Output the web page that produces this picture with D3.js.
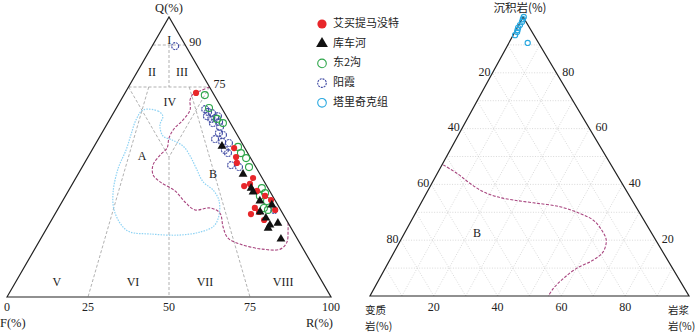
<!DOCTYPE html>
<html>
<head>
<meta charset="utf-8">
<script src="https://cdn.jsdelivr.net/npm/d3@7"></script>
<style>
  body { margin: 0; background: #fff; }
  svg { display: block; }
  text { font-family: "Liberation Serif", "DejaVu Serif", serif; fill: #222; }
  .cjk { font-family: "Noto Sans CJK SC", sans-serif; }
</style>
</head>
<body>
<script>
// left diagram: [Q, R] in %, F = 100 - Q - R
let aimaiti = [[72.9,21.9],[53.2,43.5],[50.0,45.7],[47.9,47.0],[42.5,54.7],[40.4,54.8],[39.6,53.4],
  [36.1,61.6],[31.8,60.6],[29.6,60.5],[30.4,62.6],[27.5,65.6],[34.6,64.2],[31.1,67.2],[37.9,58.2]]
let kucheRiver = [[53.9,39.4],[43.9,50.9],[38.9,55.9],[37.5,57.2],[34.3,60.9],[32.9,65.3],[30.4,62.9],
  [28.2,65.8],[25.7,68.3],[24.6,68.3],[26.4,70.4],[20.7,74.2]]
let dong2gou = [[72.1,25.0],[67.5,28.6],[63.6,33.0],[62.1,35.6],[53.6,44.5],[51.4,46.5],[49.6,49.0],
  [46.4,51.5],[38.9,59.2],[37.1,61.1],[36.1,60.0],[34.3,63.1],[31.8,63.4],[31.1,65.0]]
let yangxia = [[89.6,7.1],[67.1,27.6],[66.1,29.0],[65.7,30.4],[64.6,29.4],[63.6,31.2],[63.9,32.3],
  [64.6,32.8],[62.5,34.2],[62.1,32.5],[60.7,35.4],[58.6,36.1],[57.9,37.7],[56.4,36.0],[55.4,38.7],
  [55.0,41.0],[52.5,41.0],[47.1,45.6],[46.4,48.4],[51.4,42.5],[31.1,66.9]]

// outline of field A (dotted) and B (dashed), [Q, R]
let fieldA = [[66.8,8.6],[66.4,13.4],[64.6,15.8],[61.4,16.5],[57.5,19.4],[56.1,22.9],[53.9,27.4],
  [50.4,31.3],[46.1,35.3],[41.1,40.0],[38.2,44.5],[34.6,48.1],[29.3,50.8],[25.4,51.2],[23.2,48.0],
  [22.1,41.8],[22.5,32.9],[23.2,26.4],[25.4,22.8],[31.1,17.5],[37.5,14.0],[46.1,11.3],[52.5,10.5],
  [57.9,9.3],[63.2,8.2]]
let fieldB = [[75,25],[73.6,22.8],[72.5,21.2],[70.4,21.3],[66.8,23.1],[63.2,22.7],[60.0,21.5],
  [56.8,21.6],[53.2,22.8],[50.7,21.9],[47.1,21.5],[43.6,23.3],[41.1,26.7],[37.9,32.9],[33.6,38.4],
  [31.1,42.5],[31.8,46.8],[30.0,50.7],[25.0,54.2],[21.1,57.6],[18.9,62.5],[17.1,70.2],[17.1,75.8],
  [19.6,76.6],[23.9,74.8],[26.5,73.5]]

let baseTicks = [0, 25, 50, 75, 100]
let edgeTicks = [90, 75]
let classLabels = [['I',91.5,4.3],['II',80,4.75],['III',80,14],['IV',69.3,15.6],['A',50,16.7],['B',43.6,41.8],
  ['V',5,12.9],['VI',5,36.4],['VII',5,58.6],['VIII',5,82.7]]

// right diagram: [sedimentary, igneous] in %, metamorphic = rest
let taliqike = [[100,0.2],[99.2,0.3],[98.2,0.5],[97.1,0.4],[96.1,0.3],[95.3,0.5],[94.6,0.7],[93.5,0.6],[90.7,5.9]]
let provenanceB = [[47.0,0.4],[44.0,6.1],[40.4,11.9],[37.4,17.5],[35.6,22.6],[34.4,28.4],[33.4,35.2],
  [32.0,44.2],[29.6,51.6],[27.2,56.9],[23.7,61.2],[20.1,64.4],[15.9,65.5],[12.9,63.8],[9.9,60.0],
  [6.3,57.6],[2.8,56.2],[0,55.9]]
let ternTicks = [20, 40, 60, 80]

let legendItems = ['艾买提马没特', '库车河', '东2沟', '阳霞', '塔里奇克组']

let svg = d3.select('body')
  .append('svg')
    .attr('width', 700)
    .attr('height', 332)

// ---------- left: Q-F-R ----------
let x = d3.scaleLinear().domain([0, 100]).range([7, 331])
let y = d3.scaleLinear().domain([0, 100]).range([297, 17])
let proj = (q, r) => [x(r + q / 2), y(q)]

let left = svg.append('g')

let guide = (a, b) => left.append('line')
  .attr('x1', a[0]).attr('y1', a[1]).attr('x2', b[0]).attr('y2', b[1])
  .attr('stroke', '#a8a8a8').attr('stroke-width', 0.9).attr('stroke-dasharray', '3,2')

guide(proj(90, 0), proj(90, 10))
guide(proj(75, 0), proj(75, 25))
guide(proj(90, 5), proj(75, 12.5))
// F = 25, R = 25 and F = R
guide(proj(75, 0), proj(50, 25))
guide(proj(75, 25), proj(50, 25))
guide(proj(50, 25), proj(0, 50))
// constant F:R rays from the Q apex
guide(proj(75, 6.25), proj(0, 25))
guide(proj(75, 18.75), proj(0, 75))

let line = d3.line().curve(d3.curveCatmullRom)
left.append('path')
  .attr('d', d3.line().curve(d3.curveCatmullRomClosed)(fieldA.map(d => proj(d[0], d[1]))))
  .attr('fill', 'none').attr('stroke', '#8fd3f4').attr('stroke-width', 1.2).attr('stroke-dasharray', '1.5,1.2')
left.append('path')
  .attr('d', line(fieldB.map(d => proj(d[0], d[1]))))
  .attr('fill', 'none').attr('stroke', '#a8457f').attr('stroke-width', 1.1).attr('stroke-dasharray', '3,1.5')

left.append('path')
  .attr('d', 'M' + [proj(0, 0), proj(100, 0), proj(0, 100)].join('L') + 'Z')
  .attr('fill', 'none').attr('stroke', '#222').attr('stroke-width', 1.2)

left.selectAll('.cls')
  .data(classLabels)
  .enter()
  .append('text')
    .attr('x', d => proj(d[1], d[2])[0])
    .attr('y', d => proj(d[1], d[2])[1])
    .attr('text-anchor', 'middle').attr('dominant-baseline', 'middle')
    .attr('font-size', 12)
    .text(d => d[0])

left.selectAll('.bt')
  .data(baseTicks)
  .enter()
  .append('text')
    .attr('x', d => x(d)).attr('y', 311)
    .attr('text-anchor', 'middle').attr('font-size', 12)
    .text(d => d)
left.selectAll('.et')
  .data(edgeTicks)
  .enter()
  .append('text')
    .attr('x', d => proj(d, 100 - d)[0] + 4).attr('y', d => proj(d, 100 - d)[1] + 1)
    .attr('font-size', 12)
    .text(d => d)

left.append('text').attr('x', 169).attr('y', 12).attr('text-anchor', 'middle').attr('font-size', 12.5).text('Q(%)')
left.append('text').attr('x', 0).attr('y', 327).attr('font-size', 12.5).text('F(%)')
left.append('text').attr('x', 333).attr('y', 327).attr('text-anchor', 'end').attr('font-size', 12.5).text('R(%)')

// points
let tri = d3.symbol(d3.symbolTriangle, 34)
let drawCircles = (data, stroke, fill, dash, r) => left.append('g')
  .selectAll('circle')
  .data(data)
  .enter()
  .append('circle')
    .attr('cx', d => proj(d[0], d[1])[0])
    .attr('cy', d => proj(d[0], d[1])[1])
    .attr('r', r)
    .attr('fill', fill)
    .attr('stroke', stroke)
    .attr('stroke-width', 1.1)
    .attr('stroke-dasharray', dash)

drawCircles(yangxia, '#3f4aa3', 'none', '2,0.8', 3.5)
drawCircles(dong2gou, '#2ea64a', 'none', null, 3.5)
drawCircles(aimaiti, 'none', '#e8262a', null, 3.1)
left.append('g')
  .selectAll('path')
  .data(kucheRiver)
  .enter()
  .append('path')
    .attr('d', tri)
    .attr('transform', d => 'translate(' + proj(d[0], d[1]) + ')')
    .attr('fill', '#111')

// legend
let legend = svg.append('g').attr('transform', 'translate(322,24)')
legend.selectAll('text')
  .data(legendItems)
  .enter()
  .append('text')
    .attr('class', 'cjk')
    .attr('x', 11).attr('y', (d, i) => i * 19.7)
    .attr('dominant-baseline', 'middle')
    .attr('font-size', 11)
    .text(d => d)
legend.append('circle').attr('r', 4.6).attr('fill', '#e8262a')
legend.append('path').attr('d', d3.symbol(d3.symbolTriangle, 60)()).attr('transform', 'translate(0,' + 19.7 + ')').attr('fill', '#111')
legend.append('circle').attr('cy', 39.4).attr('r', 4.3).attr('fill', 'none').attr('stroke', '#2ea64a').attr('stroke-width', 1.1)
legend.append('circle').attr('cy', 59.1).attr('r', 4.3).attr('fill', 'none').attr('stroke', '#3f4aa3').attr('stroke-width', 1.1).attr('stroke-dasharray', '2,0.9')
legend.append('circle').attr('cy', 78.8).attr('r', 4.3).attr('fill', 'none').attr('stroke', '#29a8e0').attr('stroke-width', 1.1)

// ---------- right: sedimentary-metamorphic-igneous ----------
let x2 = d3.scaleLinear().domain([0, 100]).range([370, 689])
let y2 = d3.scaleLinear().domain([0, 100]).range([296, 17])
let apexAt = 48 // apex position along the base scale
let proj2 = (s, i) => [x2(i + s * apexAt / 100), y2(s)]

let right = svg.append('g')
let grid = (a, b) => right.append('line')
  .attr('x1', a[0]).attr('y1', a[1]).attr('x2', b[0]).attr('y2', b[1])
  .attr('stroke', '#cfcfcf').attr('stroke-width', 0.8).attr('stroke-dasharray', '1,1.6')

d3.range(10, 100, 10).forEach(v => {
  grid(proj2(v, 0), proj2(v, 100 - v))
  grid(proj2(0, v), proj2(100 - v, v))
  grid(proj2(0, 100 - v), proj2(100 - v, 0))
})

right.append('path')
  .attr('d', line(provenanceB.map(d => proj2(d[0], d[1]))))
  .attr('fill', 'none').attr('stroke', '#a8457f').attr('stroke-width', 1.1).attr('stroke-dasharray', '3,1.5')

right.append('path')
  .attr('d', 'M' + [proj2(0, 0), proj2(0, 100), proj2(100, 0)].join('L') + 'Z')
  .attr('fill', 'none').attr('stroke', '#222').attr('stroke-width', 1.2)

right.selectAll('.bt2')
  .data(ternTicks)
  .enter()
  .append('text')
    .attr('x', d => proj2(0, d)[0]).attr('y', 311)
    .attr('text-anchor', 'middle').attr('font-size', 12)
    .text(d => d)
// metamorphic % on the left edge
right.selectAll('.lt2')
  .data(ternTicks)
  .enter()
  .append('text')
    .attr('x', d => proj2(100 - d, 0)[0] - 2).attr('y', d => proj2(100 - d, 0)[1])
    .attr('text-anchor', 'end').attr('dominant-baseline', 'middle').attr('font-size', 12)
    .text(d => d)
// sedimentary % on the right edge
right.selectAll('.rt2')
  .data(ternTicks)
  .enter()
  .append('text')
    .attr('x', d => proj2(d, 100 - d)[0] + 6).attr('y', d => proj2(d, 100 - d)[1])
    .attr('dominant-baseline', 'middle').attr('font-size', 12)
    .text(d => d)

right.append('text').attr('x', proj2(22, 23)[0]).attr('y', proj2(22, 23)[1])
  .attr('text-anchor', 'middle').attr('dominant-baseline', 'middle').attr('font-size', 12).text('B')

right.append('text').attr('class', 'cjk').attr('x', 520).attr('y', 12).attr('text-anchor', 'middle').attr('font-size', 11.5).text('沉积岩(%)')
let cornerLabel = (x0, first) => {
  right.append('text').attr('class', 'cjk').attr('x', x0).attr('y', 313.5).attr('font-size', 10.5).text(first)
  right.append('text').attr('class', 'cjk').attr('x', x0).attr('y', 329.5).attr('font-size', 10.5).text('岩(%)')
}
cornerLabel(365, '变质')
cornerLabel(668, '岩浆')

right.append('g')
  .selectAll('circle')
  .data(taliqike)
  .enter()
  .append('circle')
    .attr('cx', d => proj2(d[0], d[1])[0])
    .attr('cy', d => proj2(d[0], d[1])[1])
    .attr('r', 2.6)
    .attr('fill', 'none')
    .attr('stroke', '#29a8e0')
    .attr('stroke-width', 1.1)
</script>
</body>
</html>
